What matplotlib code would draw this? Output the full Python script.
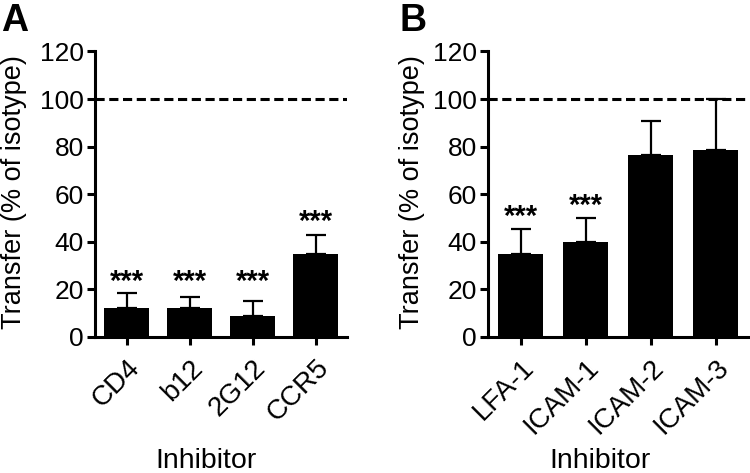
import matplotlib
matplotlib.use("Agg")
import matplotlib.pyplot as plt

plt.rcParams['font.family'] = ['Liberation Sans', 'DejaVu Sans']

# panel A
labels_a = ["CD4", "b12", "2G12", "CCR5"]
means_a = [11.9, 12.0, 8.7, 34.8]
errs_a = [6.3, 4.8, 6.4, 8.1]
stars_a = [25.2, 25.2, 25.2, 50.5]

# panel B
labels_b = ["LFA-1", "ICAM-1", "ICAM-2", "ICAM-3"]
means_b = [34.8, 40.0, 76.4, 78.5]
errs_b = [10.4, 10.0, 14.3, 21.5]
stars_b = [52.6, 57.5, None, None]

W, H = 750, 473
fig = plt.figure(figsize=(7.5, 4.73), dpi=100)


def draw_panel(rect, labels, means, errs, stars, letter, letter_x, ylab_x, xlab_x):
    ax = fig.add_axes(rect)
    x = range(len(labels))
    ax.bar(x, means, width=0.7, color="black")
    ax.errorbar(x, means, yerr=[[0] * len(errs), errs], fmt="none",
                ecolor="black", elinewidth=1.6, capsize=7, capthick=1.6)
    for i, s in enumerate(stars):
        if s is not None:
            ax.annotate("***", (i, s), xytext=(0, -4), textcoords="offset points",
                        ha="center", va="center", fontsize=21, fontweight="bold")
    ax.axhline(100, color="black", lw=2.2, ls=(0, (3.0, 1.5)))
    ax.set_xlim(-0.5, len(labels) - 0.5)
    ax.set_ylim(0, 120)
    ax.set_yticks(range(0, 121, 20))
    ax.set_xticks(list(x))
    ax.set_xticklabels(labels, rotation=45, ha="right", rotation_mode="anchor")
    for side in ["top", "right"]:
        ax.spines[side].set_visible(False)
    for side in ["left", "bottom"]:
        ax.spines[side].set_linewidth(2.2)
    ax.tick_params(width=2.2, length=6, labelsize=19, pad=2)
    ax.tick_params(axis="x", pad=7, labelsize=20)
    fig.text(letter_x / W, 1 - 31 / H, letter, fontsize=27, fontweight="bold",
             ha="left", va="baseline")
    fig.text(ylab_x / W, 1 - 192 / H, "Transfer (% of isotype)", rotation=90,
             ha="center", va="center", fontsize=19.5)
    fig.text(xlab_x / W, 5 / H, "Inhibitor", ha="center", va="baseline",
             fontsize=20.5)
    return ax


draw_panel([95 / W, 1 - 336.7 / H, 252 / W, 285.2 / H], labels_a, means_a,
           errs_a, stars_a, "A", 1, 14, 206)
draw_panel([488 / W, 1 - 336.7 / H, 260 / W, 285.2 / H], labels_b, means_b,
           errs_b, stars_b, "B", 400, 412, 600)

fig.savefig("out.png", dpi=100)
